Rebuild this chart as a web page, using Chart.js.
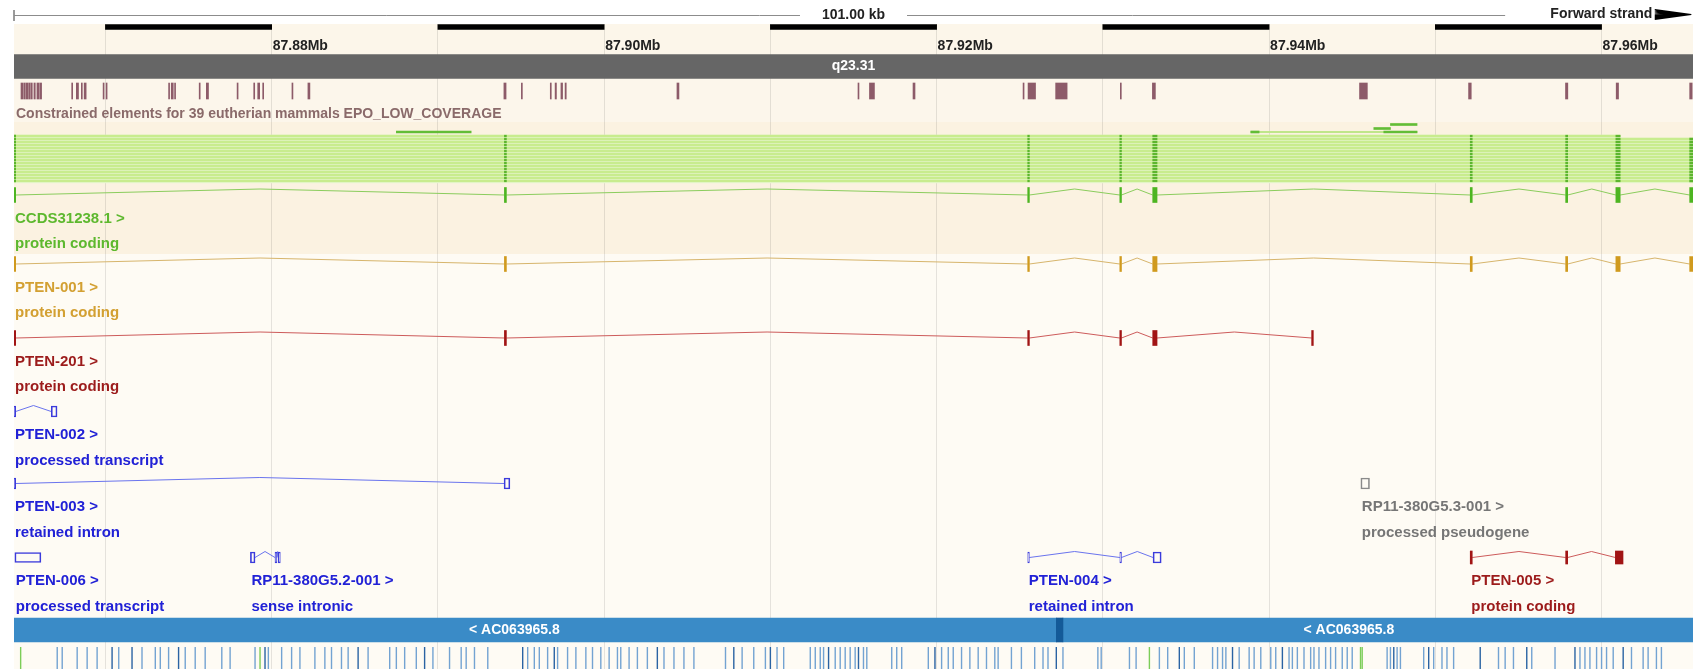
<!DOCTYPE html>
<html>
<head>
<meta charset="utf-8">
<title>PTEN region</title>
<script src="https://cdn.jsdelivr.net/npm/chart.js@4.4.1/dist/chart.umd.min.js"></script>
<style>
  html, body { margin: 0; padding: 0; background: #ffffff; }
  #wrap { width: 1698px; height: 669px; }
</style>
</head>
<body>
<div id="wrap"><canvas id="view"></canvas></div>
<script>
// visible window, in kb on chromosome 10
const viewStart = 87864.5;
const viewEnd = 87965.5;

// ruler
const tickValues = [87880, 87900, 87920, 87940, 87960];
const tickLabels = ['87.88Mb', '87.90Mb', '87.92Mb', '87.94Mb', '87.96Mb'];
const rulerBars = [[87870, 87880], [87890, 87900], [87910, 87920], [87930, 87940], [87950, 87960]];
const windowLabel = '101.00 kb';
const strandLabel = 'Forward strand';

// karyotype band
const bandSpans = [[87800, 88000]];
const bandLabel = 'q23.31';

// constrained elements (kb start, kb end)
const constrainedElements = [
  [87864.92, 87865.02], [87865.08, 87865.18], [87865.23, 87865.33], [87865.38, 87865.48],
  [87865.53, 87865.60], [87865.70, 87865.78], [87865.88, 87866.00], [87866.05, 87866.16],
  [87867.97, 87868.03], [87868.25, 87868.38], [87868.55, 87868.61], [87868.72, 87868.84],
  [87869.86, 87869.92], [87870.04, 87870.10], [87873.80, 87873.86], [87873.96, 87874.08],
  [87874.16, 87874.22], [87875.64, 87875.70], [87876.07, 87876.20], [87877.92, 87877.98],
  [87878.92, 87878.98], [87879.16, 87879.28], [87879.46, 87879.52], [87881.22, 87881.28],
  [87882.18, 87882.30], [87893.97, 87894.10], [87895.02, 87895.08], [87896.76, 87896.82],
  [87897.05, 87897.13], [87897.40, 87897.50], [87897.65, 87897.72], [87904.38, 87904.50],
  [87915.27, 87915.33], [87915.96, 87916.26], [87918.58, 87918.70], [87925.20, 87925.26],
  [87925.50, 87925.95], [87927.16, 87927.85], [87931.05, 87931.11], [87932.98, 87933.16],
  [87945.44, 87945.91], [87952.00, 87952.16], [87957.83, 87957.97], [87960.88, 87961.02],
  [87965.30, 87965.45]
];
const constrainedLabel = 'Constrained elements for 39 eutherian mammals EPO_LOW_COVERAGE';

// cDNA / EST alignments stacked above the transcripts
const alignmentSpans = [
  [87860, 87961.1], [87860, 87970], [87860, 87970], [87860, 87970],
  [87860, 87970], [87860, 87970], [87860, 87970], [87860, 87970],
  [87860, 87970], [87860, 87970], [87860, 87970], [87860, 87970],
  [87860, 87970], [87860, 87970], [87860, 87970], [87860, 87970]
];
const alignmentExons = [
  [87863.0, 87864.6], [87894.0, 87894.12], [87925.48, 87925.58], [87931.02, 87931.12],
  [87933.0, 87933.26], [87952.1, 87952.22], [87957.84, 87957.96], [87960.86, 87961.12],
  [87965.3, 87972.0]
];
const looseAlignPale = [[87938.9, 87948.9]];
const looseAlignLow = [[87887.5, 87892.0], [87938.9, 87939.4], [87946.9, 87948.9]];
const looseAlignMid = [[87946.3, 87947.3]];
const looseAlignHigh = [[87947.3, 87948.9]];

// transcript models (exon start, exon end)
const ccdsExons = [
  [87863.0, 87864.6], [87894.0, 87894.12], [87925.48, 87925.58], [87931.02, 87931.12],
  [87933.0, 87933.26], [87952.1, 87952.22], [87957.84, 87957.96], [87960.86, 87961.12],
  [87965.3, 87972.0]
];
const pten001Exons = [
  [87863.0, 87864.6], [87894.0, 87894.12], [87925.48, 87925.58], [87931.02, 87931.12],
  [87933.0, 87933.26], [87952.1, 87952.22], [87957.84, 87957.96], [87960.86, 87961.12],
  [87965.3, 87972.0]
];
const pten201Exons = [
  [87863.0, 87864.6], [87894.0, 87894.12], [87925.48, 87925.58], [87931.02, 87931.12],
  [87933.0, 87933.26], [87942.56, 87942.66]
];
const pten002Exons = [[87863.0, 87864.6], [87866.74, 87867.09]];
const pten003Exons = [[87863.0, 87864.6], [87893.98, 87894.33]];
const pten006Exons = [[87864.55, 87866.12]];
const rp11g52Exons = [[87878.72, 87879.0], [87880.2, 87880.32], [87880.4, 87880.52]];
const pten004Exons = [[87925.48, 87925.58], [87931.02, 87931.12], [87933.02, 87933.51]];
const rp11g53Exons = [[87945.52, 87946.04]];
const pten005Exons = [[87952.1, 87952.22], [87957.84, 87957.96], [87960.83, 87961.29]];

// clone contigs
const contigSpans = [[87700, 87927.2], [87927.6, 88100]];
const contigJoins = [[87927.2, 87927.6]];
const contigLabelAt = [87894.6, 87944.8];
const contigLabel = '< AC063965.8';

// variation features
const varGreen = [87864.9, 87879.3, 87932.8, 87945.5, 87945.6];
const varDark = [87870.4, 87871.6, 87874.4, 87879.6, 87885.2, 87889.2, 87895.1, 87897.0, 87903.2,
  87907.8, 87910.0, 87913.5, 87915.3, 87919.9, 87927.2, 87934.6, 87937.8, 87940.8, 87947.5,
  87949.6, 87952.7, 87955.5, 87958.4, 87961.3];
const varLight = [87867.1, 87867.4, 87868.3, 87868.9, 87869.5, 87870.8, 87872.2, 87873.0, 87873.3,
  87873.8, 87874.8, 87875.4, 87876.0, 87877.0, 87877.5, 87879.0, 87879.8, 87880.6, 87881.2,
  87881.7, 87882.6, 87883.2, 87883.6, 87884.2, 87884.6, 87885.8, 87887.1, 87887.5, 87888.0,
  87888.7, 87889.7, 87890.7, 87891.4, 87891.7, 87892.2, 87893.0, 87895.4, 87895.8, 87896.1,
  87896.6, 87897.2, 87897.8, 87898.3, 87898.9, 87899.3, 87899.8, 87900.3, 87900.8, 87901.0,
  87901.5, 87902.0, 87902.6, 87903.6, 87904.2, 87904.8, 87905.4, 87907.3, 87908.3, 87909.0,
  87909.7, 87910.4, 87910.8, 87912.4, 87912.7, 87913.0, 87913.2, 87913.9, 87914.2, 87914.5,
  87914.8, 87915.1, 87915.6, 87915.8, 87917.3, 87917.6, 87917.9, 87919.5, 87920.3, 87920.7,
  87921.0, 87921.5, 87922.0, 87922.5, 87923.0, 87923.5, 87923.7, 87924.5, 87925.1, 87925.9,
  87926.4, 87926.7, 87927.6, 87929.7, 87929.9, 87931.6, 87932.0, 87933.4, 87933.9, 87934.9,
  87935.5, 87936.6, 87936.9, 87937.2, 87937.4, 87938.2, 87938.8, 87939.1, 87939.5, 87940.1,
  87940.4, 87941.2, 87941.4, 87941.7, 87942.1, 87942.5, 87942.7, 87943.0, 87943.4, 87943.7,
  87944.0, 87944.4, 87944.7, 87945.0, 87947.1, 87947.3, 87947.7, 87947.9, 87949.3, 87949.9,
  87950.4, 87950.7, 87951.1, 87953.8, 87954.2, 87954.7, 87955.8, 87957.2, 87958.7, 87959.0,
  87959.3, 87959.7, 87960.0, 87960.3, 87960.7, 87961.8, 87962.5, 87962.8, 87963.3, 87963.6];

// ---- layout (pixel rows) and styles ----
const rows = {
  scaleLine: 15.5, ruler: 27, tickLabel: 46.5, band: 66.5, constrained: 91, constrainedLabel: 114,
  looseHigh: 124.5, looseMid: 128.5, looseLow: 132, alignTop: 136.5, alignStep: 3,
  contig: 630, variation: 658
};
const arrowTail = 87963.2, arrowTip = 87965.4;
const trackBands = [
  [24, 54, '#fcf6ea'],
  [54, 122, '#fcf6eb'],
  [122, 254, '#fbf2e1'],
  [254, 669, '#fefbf4']
];
const labelFont = 'bold 15px "Liberation Sans", Arial, sans-serif';
const smallFont = 'bold 14px "Liberation Sans", Arial, sans-serif';
const red = { exon: '#a11414', intron: '#cd5b5b', text: '#9c1b1b' };
const blue = { exon: '#3b3bdc', intron: '#6a74ee', text: '#2121d6' };

const transcripts = [
  { name: 'CCDS31238.1 >', type: 'protein coding', exons: ccdsExons, y: 195, h: 15, open: false,
    exon: '#4db521', intron: '#8bcd5d', text: '#5db82e' },
  { name: 'PTEN-001 >', type: 'protein coding', exons: pten001Exons, y: 264, h: 15, open: false,
    exon: '#d09a1e', intron: '#d7b56c', text: '#d3a032' },
  { name: 'PTEN-201 >', type: 'protein coding', exons: pten201Exons, y: 338, h: 15, open: false, ...red },
  { name: 'PTEN-002 >', type: 'processed transcript', exons: pten002Exons, y: 411.5, h: 11, open: true, ...blue },
  { name: 'PTEN-003 >', type: 'retained intron', exons: pten003Exons, y: 483.5, h: 11, open: true, ...blue },
  { name: 'RP11-380G5.3-001 >', type: 'processed pseudogene', exons: rp11g53Exons, y: 483.5, h: 11, open: true,
    exon: '#8a8a8a', intron: '#8a8a8a', text: '#767676' },
  { name: 'PTEN-006 >', type: 'processed transcript', exons: pten006Exons, y: 557.5, h: 10, open: true, ...blue },
  { name: 'RP11-380G5.2-001 >', type: 'sense intronic', exons: rp11g52Exons, y: 557.5, h: 11, open: true, ...blue },
  { name: 'PTEN-004 >', type: 'retained intron', exons: pten004Exons, y: 557.5, h: 11, open: true, ...blue },
  { name: 'PTEN-005 >', type: 'protein coding', exons: pten005Exons, y: 557.5, h: 13, open: false, ...red }
];

// floating horizontal bars on a pixel-row axis
function spanBars(spans, y, h, color, axis, extra) {
  return Object.assign({
    type: 'bar', indexAxis: 'y', grouped: false, yAxisID: axis || 'y',
    barThickness: h, maxBarThickness: h,
    data: spans.map(s => ({ x: s, y: y })),
    backgroundColor: color, borderWidth: 0, borderSkipped: false
  }, extra || {});
}

function lineSet(points, color, width, extra) {
  return Object.assign({
    type: 'line', data: points, borderColor: color, borderWidth: width || 1,
    pointRadius: 0, pointHoverRadius: 0, fill: false, tension: 0, spanGaps: false
  }, extra || {});
}

// intron "hats" between consecutive exons
function intronPoints(exons, y, rise) {
  const pts = [];
  for (let i = 0; i < exons.length - 1; i++) {
    const a = exons[i][1], b = exons[i + 1][0];
    pts.push({ x: a, y: y }, { x: (a + b) / 2, y: y - rise }, { x: b, y: y }, { x: b, y: null });
  }
  return pts;
}

// solid strand arrow: a dense fan of strokes from the tail edge to the tip
function arrowPoints(y) {
  const pts = [];
  for (let dy = -5; dy <= 5; dy += 0.5) {
    pts.push({ x: arrowTail, y: y + dy }, { x: arrowTip, y: y });
  }
  return pts;
}

function tickMarks(xs, y, color, width) {
  return {
    type: 'scatter', data: xs.map(x => ({ x: x, y: y })),
    pointStyle: 'line', rotation: 90, radius: 11, hoverRadius: 11,
    borderColor: color, borderWidth: width, backgroundColor: color
  };
}

const datasets = [];

// top scale line with end tick and strand arrow
datasets.push(lineSet([{ x: viewStart, y: rows.scaleLine }, { x: 87954.2, y: rows.scaleLine }], '#8c8c8c', 1, { clip: false }));
datasets.push(lineSet([{ x: viewStart, y: 10 }, { x: viewStart, y: 21 }], '#8c8c8c', 1, { clip: false }));
datasets.push(lineSet(arrowPoints(rows.scaleLine - 1), '#000000', 1.2, { clip: false }));

datasets.push(spanBars(rulerBars, rows.ruler, 5, '#000000'));
datasets.push(spanBars(bandSpans, rows.band, 24, '#666666'));
datasets.push(spanBars(constrainedElements, rows.constrained, 16, '#8d5b69'));

// alignment stack
const alignRowsBg = [], alignRowsFg = [], alignMarks = [];
alignmentSpans.forEach((s, i) => {
  const y = rows.alignTop + i * rows.alignStep;
  alignRowsBg.push({ x: s, y: y });
  alignRowsFg.push({ x: s, y: y - 0.5 });
  alignmentExons.forEach(e => {
    if (e[0] < s[1]) alignMarks.push({ x: e, y: y - 0.5 });
  });
});
datasets.push({ type: 'bar', indexAxis: 'y', grouped: false, yAxisID: 'y2', barThickness: 3, maxBarThickness: 3,
  data: alignRowsBg, backgroundColor: '#ecf8d8', borderWidth: 0 });
datasets.push({ type: 'bar', indexAxis: 'y', grouped: false, yAxisID: 'y2', barThickness: 1.7, maxBarThickness: 1.7,
  data: alignRowsFg, backgroundColor: '#c8ec8e', borderWidth: 0 });
datasets.push({ type: 'bar', indexAxis: 'y', grouped: false, yAxisID: 'y2', barThickness: 1.6, maxBarThickness: 1.6,
  data: alignMarks, backgroundColor: '#5cb52e', borderWidth: 0 });
datasets.push(spanBars(looseAlignPale, rows.looseLow, 1.5, '#bfe68a', 'y2'));
datasets.push(spanBars(looseAlignLow, rows.looseLow, 2, '#62bd36', 'y2'));
datasets.push(spanBars(looseAlignMid, rows.looseMid, 2, '#62bd36', 'y2'));
datasets.push(spanBars(looseAlignHigh, rows.looseHigh, 2, '#62bd36', 'y2'));

// transcripts
transcripts.forEach(t => {
  datasets.push(lineSet(intronPoints(t.exons, t.y, 6), t.intron, 1));
  datasets.push(spanBars(t.exons, t.y, t.h, t.open ? 'rgba(0,0,0,0)' : t.exon, 'y',
    t.open ? { borderWidth: 1, borderColor: t.exon } : {}));
});

// contigs
datasets.push(spanBars(contigSpans, rows.contig, 24, '#3a8bc7'));
datasets.push(spanBars(contigJoins, rows.contig, 24, '#145a98'));

// variation
datasets.push(tickMarks(varLight, rows.variation, '#73a3d2', 1.4));
datasets.push(tickMarks(varDark, rows.variation, '#2a63a3', 1.4));
datasets.push(tickMarks(varGreen, rows.variation, '#7ccd58', 1.4));

// paint in push order: first pushed sits at the back
datasets.forEach((d, i) => { d.order = datasets.length - i; });

// text drawn on top of the tracks
const texts = [];
texts.push({ text: windowLabel, x: (viewStart + viewEnd) / 2, y: rows.scaleLine, align: 'center', font: smallFont, color: '#222', bg: '#ffffff', pad: 22 });
texts.push({ text: strandLabel, x: arrowTail - 0.15, y: rows.scaleLine - 1, align: 'right', font: smallFont, color: '#222' });
tickValues.forEach((v, i) => texts.push({ text: tickLabels[i], x: v, y: rows.tickLabel, align: 'left', font: smallFont, color: '#222', dx: 1 }));
texts.push({ text: bandLabel, x: (viewStart + viewEnd) / 2, y: rows.band, align: 'center', font: smallFont, color: '#ffffff' });
texts.push({ text: constrainedLabel, x: viewStart, y: rows.constrainedLabel, align: 'left', font: smallFont, color: '#8a6a6a', dx: 2 });
transcripts.forEach(t => {
  const x0 = Math.max(t.exons[0][0], viewStart);
  texts.push({ text: t.name, x: x0, y: t.y + 23.5, align: 'left', font: labelFont, color: t.text, dx: 1 });
  texts.push({ text: t.type, x: x0, y: t.y + 49, align: 'left', font: labelFont, color: t.text, dx: 1 });
});
contigLabelAt.forEach(x => texts.push({ text: contigLabel, x: x, y: rows.contig, align: 'center', font: smallFont, color: '#ffffff' }));

const bandsPlugin = {
  id: 'trackBands',
  beforeDraw(chart) {
    const { ctx, chartArea: a, scales: { y } } = chart;
    ctx.save();
    ctx.fillStyle = '#ffffff';
    ctx.fillRect(0, 0, chart.width, chart.height);
    trackBands.forEach(([y0, y1, c]) => {
      const p0 = y.getPixelForValue(y0), p1 = y.getPixelForValue(y1);
      ctx.fillStyle = c;
      ctx.fillRect(a.left, p0, a.right - a.left, p1 - p0);
    });
    ctx.restore();
  }
};

const labelPlugin = {
  id: 'trackLabels',
  afterDatasetsDraw(chart) {
    const { ctx, scales: { x, y } } = chart;
    ctx.save();
    ctx.textBaseline = 'middle';
    texts.forEach(t => {
      ctx.font = t.font;
      ctx.textAlign = t.align;
      const px = x.getPixelForValue(t.x) + (t.dx || 0);
      const py = y.getPixelForValue(t.y);
      if (t.bg) {
        const w = ctx.measureText(t.text).width;
        ctx.fillStyle = t.bg;
        ctx.fillRect(px - w / 2 - t.pad, py - 8, w + 2 * t.pad, 16);
      }
      ctx.fillStyle = t.color;
      ctx.fillText(t.text, px, py);
    });
    ctx.restore();
  }
};

new Chart(document.getElementById('view'), {
  type: 'scatter',
  data: { datasets: datasets },
  options: {
    responsive: true,
    maintainAspectRatio: false,
    animation: false,
    devicePixelRatio: 1,
    events: [],
    layout: { autoPadding: false, padding: { left: 14, right: 5, top: 24, bottom: 0 } },
    plugins: { legend: { display: false }, tooltip: { enabled: false } },
    scales: {
      x: {
        type: 'linear', min: viewStart, max: viewEnd, position: 'bottom', offset: false,
        ticks: { display: false, stepSize: 10, includeBounds: false },
        grid: { color: 'rgba(60,60,60,0.13)', lineWidth: 1, drawTicks: false, offset: false },
        border: { display: false }
      },
      y: { type: 'linear', min: 24, max: 669, reverse: true, display: false, offset: false, grid: { offset: false } },
      y2: { type: 'linear', min: 24, max: 669, reverse: true, display: false, offset: false, grid: { offset: false } }
    }
  },
  plugins: [bandsPlugin, labelPlugin]
});
</script>
</body>
</html>
